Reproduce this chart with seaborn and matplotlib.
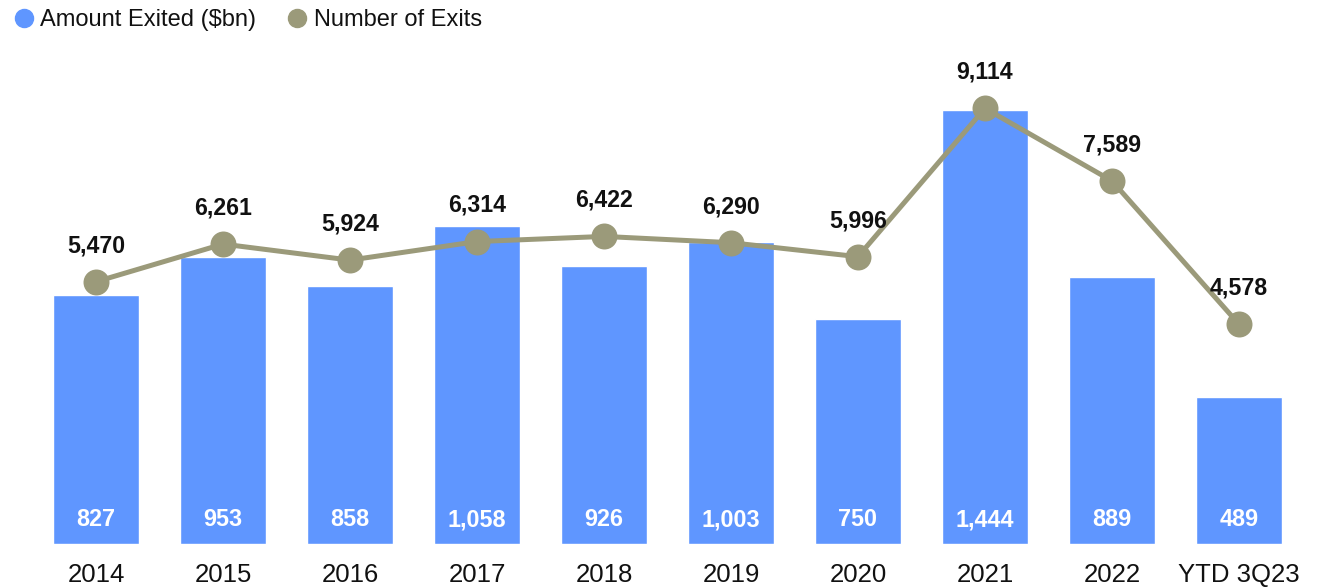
import matplotlib
matplotlib.use("Agg")
import matplotlib.pyplot as plt
from matplotlib.lines import Line2D
import seaborn as sns

# chart data
years = ['2014', '2015', '2016', '2017', '2018', '2019', '2020', '2021', '2022', 'YTD 3Q23']
amount_exited = [827, 953, 858, 1058, 926, 1003, 750, 1444, 889, 489]
num_exits = [5470, 6261, 5924, 6314, 6422, 6290, 5996, 9114, 7589, 4578]

bar_color = '#5F96FF'
line_color = '#9B9A7A'

sns.set_style("white")
plt.rcParams['font.family'] = ['Liberation Sans', 'DejaVu Sans']

fig = plt.figure(figsize=(13.29, 5.88), dpi=100)
ax = fig.add_axes([0.02446, 0.07483, 0.95554, 0.857])

sns.barplot(x=years, y=amount_exited, ax=ax, color=bar_color, width=0.68, saturation=1)
ax.set_ylim(0, 1676)
ax.set_xlim(-0.5, 9.5)

# white value labels at the bottom of each bar
for i, v in enumerate(amount_exited):
    ax.text(i, 80, f'{v:,}', ha='center', va='center', color='white',
            fontsize=16.8, fontweight='bold')

ax2 = ax.twinx()
sns.pointplot(x=years, y=num_exits, ax=ax2, color=line_color,
              markersize=16, linewidth=3.6)
ax2.set_ylim(-42, 10548)
ax2.set_xlim(-0.5, 9.5)

for i, v in enumerate(num_exits):
    ax2.annotate(f'{v:,}', (i, v), xytext=(0, 26), textcoords='offset points',
                 ha='center', va='center', fontsize=16.7, fontweight='bold',
                 color='#111111')

for a in (ax, ax2):
    for s in a.spines.values():
        s.set_visible(False)
    a.set_yticks([])
    a.set_ylabel('')
    a.set_xlabel('')

ax.tick_params(axis='x', length=0, labelsize=18.5, pad=14, labelcolor='#111111')

handles = [
    Line2D([], [], marker='o', linestyle='', markersize=13, color=bar_color),
    Line2D([], [], marker='o', linestyle='', markersize=13, color=line_color),
]
fig.legend(handles, ['Amount Exited ($bn)', 'Number of Exits'], loc='upper left',
           bbox_to_anchor=(-0.008, 1.02), ncol=2, frameon=False, fontsize=17,
           handletextpad=0.15, columnspacing=1.2, handlelength=1.1,
           labelcolor='#111111')

fig.savefig('out.png', dpi=100)
